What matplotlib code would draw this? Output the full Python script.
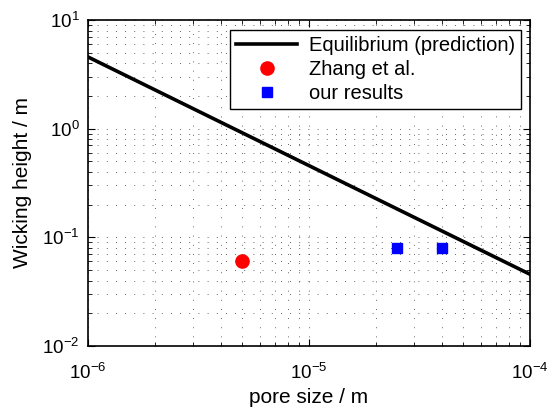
import numpy as np
import matplotlib.pyplot as plt

plt.rcParams['font.family'] = ['Liberation Sans', 'DejaVu Sans']
plt.rcParams['mathtext.fontset'] = 'custom'
plt.rcParams['mathtext.rm'] = 'Liberation Sans'

# equilibrium prediction (slope -1 in log-log)
pore_line = [1e-6, 1e-4]
height_line = [4.57, 0.0457]

# measured data
zhang_x = [5e-6]
zhang_y = [0.06]
ours_x = [2.5e-5, 4e-5]
ours_y = [0.08, 0.08]

fig = plt.figure(figsize=(5.48, 4.12), dpi=100)
ax = fig.add_axes([88/548, 1 - 346/412, 442/548, 326/412])

ax.plot(pore_line, height_line, color='black', lw=2.6, label='Equilibrium (prediction)')
ax.plot(zhang_x, zhang_y, 'o', color='red', ms=9.5, label='Zhang et al.')
ax.plot(ours_x, ours_y, 's', color='blue', ms=7.5, label='our results')

ax.set_xscale('log')
ax.set_yscale('log')
ax.set_xlim(1e-6, 1e-4)
ax.set_ylim(1e-2, 1e1)

ax.grid(True, which='both', color='#333333', linestyle=(0, (1, 10)), lw=0.6)
ax.tick_params(which='both', direction='in', top=True, right=True, labelsize=13.5)
ax.tick_params(which='major', length=5)
ax.tick_params(which='minor', length=3)
ax.tick_params(axis='x', pad=12)
ax.tick_params(axis='y', pad=6)
for sp in ax.spines.values():
    sp.set_linewidth(1.2)

ax.set_xlabel('pore size / m', fontsize=15)
ax.set_ylabel('Wicking height / m', fontsize=15, labelpad=7)

leg = ax.legend(loc='upper right', fontsize=14.5, fancybox=False, framealpha=1,
                edgecolor='black', bbox_to_anchor=(0.98, 0.97), borderaxespad=0,
                handlelength=3.0, labelspacing=0.25, borderpad=0.3, handletextpad=0.6)
leg.get_frame().set_linewidth(1.0)

fig.savefig('out.png', dpi=100)
